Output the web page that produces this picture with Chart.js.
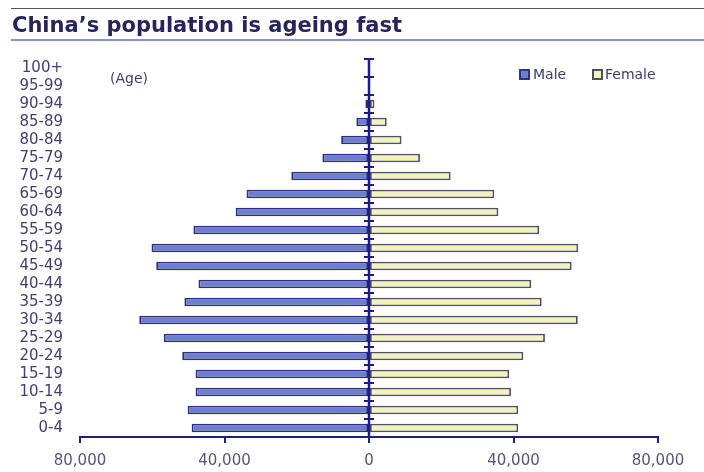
<!DOCTYPE html>
<html>
<head>
<meta charset="utf-8">
<script src="https://cdn.jsdelivr.net/npm/chart.js@4"></script>
<style>
  body { margin: 0; background: #fff; font-family: 'DejaVu Sans', Verdana, sans-serif; }
  #wrap { position: relative; width: 704px; height: 472px; }
  #title {
    position: absolute; left: 11px; right: 0; top: 8px;
    border-top: 1px solid #555;
    border-bottom: 2px solid #8594cc;
    padding: 4px 0 2px 1px;
    font-weight: bold; font-size: 21px; line-height: 24px; color: #25255c;
  }
  .txt { position: absolute; font-size: 14px; line-height: 17px; color: #3b3b6e; }
  .box { position: absolute; width: 7px; height: 7px; border: 2px solid; }
  canvas { position: absolute; left: 0; top: 0; }
</style>
</head>
<body>
<div id="wrap">
  <canvas id="pyramid" width="704" height="472"></canvas>
  <div id="title">China’s population is ageing fast</div>
  <div class="txt" style="left:110px; top:70px;">(Age)</div>
  <div class="box" style="left:519px; top:69px; background:#6f7fd0; border-color:#2e3382;"></div>
  <div class="txt" style="left:533px; top:66px;">Male</div>
  <div class="box" style="left:592px; top:69px; background:#f3f3bd; border-color:#4e4e66;"></div>
  <div class="txt" style="left:605px; top:66px;">Female</div>
</div>
<script>
// age groups, top to bottom
const ageGroups = ['100+', '95-99', '90-94', '85-89', '80-84', '75-79', '70-74', '65-69', '60-64',
  '55-59', '50-54', '45-49', '40-44', '35-39', '30-34', '25-29', '20-24', '15-19', '10-14', '5-9', '0-4'];

// thousands of people
const maleValues = [0, 200, 1000, 3500, 7700, 12900, 21500, 33900, 36900,
  48600, 60200, 58900, 47200, 51100, 63600, 56800, 51700, 48000, 48000, 50200, 49100];
const femaleValues = [0, 300, 1500, 4900, 9000, 14100, 22600, 34700, 35800,
  47100, 57900, 56100, 44900, 47800, 57800, 48700, 42700, 38800, 39300, 41300, 41300];

const xTicks = [-80000, -40000, 0, 40000, 80000];

const navy = '#1e1e82';

// centre axis with tick marks between the age groups
const centreAxis = {
  id: 'centreAxis',
  afterDatasetsDraw(chart) {
    const { ctx, chartArea, scales } = chart;
    const x0 = scales.x.getPixelForValue(0);
    const step = scales.y.getPixelForValue(1) - scales.y.getPixelForValue(0);
    ctx.save();
    ctx.strokeStyle = navy;
    ctx.lineWidth = 2.5;
    ctx.beginPath();
    ctx.moveTo(x0, chartArea.top);
    ctx.lineTo(x0, chartArea.bottom);
    ctx.stroke();
    ctx.lineWidth = 2;
    ageGroups.forEach((g, i) => {
      const yb = scales.y.getPixelForValue(i) - step / 2;
      ctx.beginPath();
      ctx.moveTo(x0 - 5, yb);
      ctx.lineTo(x0 + 5, yb);
      ctx.stroke();
    });
    ctx.restore();
  }
};

new Chart(document.getElementById('pyramid'), {
  type: 'bar',
  data: {
    labels: ageGroups,
    datasets: [
      {
        label: 'Male',
        data: maleValues.map(v => -v),
        backgroundColor: '#6f7fd0',
        borderColor: '#2a2f7e',
        borderWidth: 1.8,
        borderSkipped: false
      },
      {
        label: 'Female',
        data: femaleValues,
        backgroundColor: '#f3f3bd',
        borderColor: '#50506a',
        borderWidth: 1.8,
        borderSkipped: false
      }
    ]
  },
  options: {
    indexAxis: 'y',
    responsive: false,
    animation: false,
    layout: { padding: { top: 59, right: 46, left: 0, bottom: 0 } },
    datasets: { bar: { barPercentage: 0.48, categoryPercentage: 1 } },
    plugins: {
      legend: { display: false },
      tooltip: { enabled: false }
    },
    scales: {
      x: {
        stacked: true,
        min: -80000,
        max: 80000,
        afterBuildTicks: scale => { scale.ticks = xTicks.map(v => ({ value: v })); },
        afterFit: scale => { scale.height = 35; },
        border: { color: navy, width: 2 },
        grid: { drawOnChartArea: false, drawTicks: true, tickLength: 6, color: navy, lineWidth: 2 },
        ticks: {
          padding: 9,
          color: '#55557a',
          font: { family: "'DejaVu Sans', sans-serif", size: 15 },
          callback: v => Math.abs(v).toLocaleString('en-US')
        }
      },
      y: {
        stacked: true,
        afterFit: scale => { scale.width = 80; },
        border: { display: false },
        grid: { display: false, drawTicks: false },
        ticks: {
          autoSkip: false,
          padding: 17,
          color: '#3f3f72',
          font: { family: "'DejaVu Sans', sans-serif", size: 15 }
        }
      }
    }
  },
  plugins: [centreAxis]
});
</script>
</body>
</html>
